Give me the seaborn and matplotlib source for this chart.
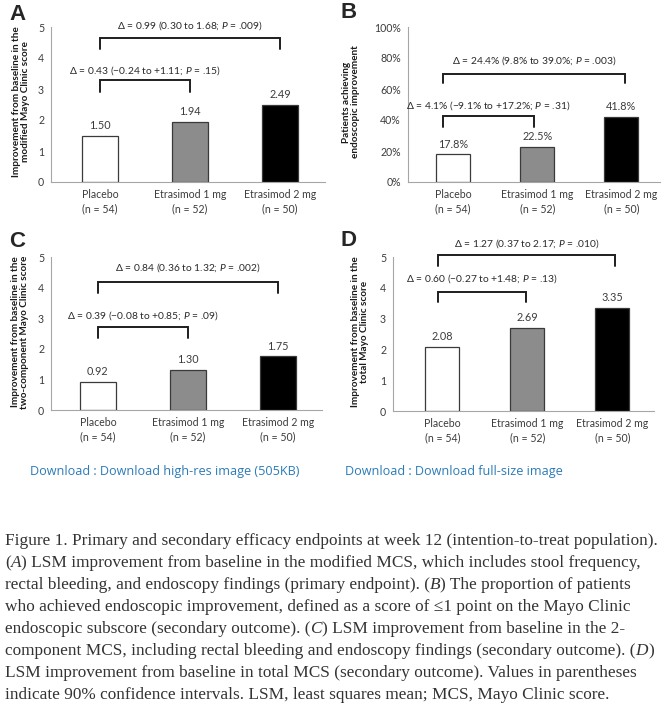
import matplotlib
matplotlib.use("Agg")
import matplotlib.pyplot as plt
import pandas as pd
import seaborn as sns

# values
groups = ["Placebo", "Etrasimod 1 mg", "Etrasimod 2 mg"]
n_patients = [54, 52, 50]
modified_mcs = [1.50, 1.94, 2.49]
endo_improvement = [17.8, 22.5, 41.8]
two_component_mcs = [0.92, 1.30, 1.75]
total_mcs = [2.08, 2.69, 3.35]

delta_2mg = [
    "Δ = 0.99 (0.30 to 1.68; $P$ = .009)",
    "Δ = 24.4% (9.8% to 39.0%; $P$ = .003)",
    "Δ = 0.84 (0.36 to 1.32; $P$ = .002)",
    "Δ = 1.27 (0.37 to 2.17; $P$ = .010)",
]
delta_1mg = [
    "Δ = 0.43 (−0.24 to +1.11; $P$ = .15)",
    "Δ = 4.1% (−9.1% to +17.2%; $P$ = .31)",
    "Δ = 0.39 (−0.08 to +0.85; $P$ = .09)",
    "Δ = 0.60 (−0.27 to +1.48; $P$ = .13)",
]
ylabels = [
    "Improvement from baseline in the\nmodified Mayo Clinic score",
    "Patients achieving\nendoscopic improvement",
    "Improvement from baseline in the\ntwo-component Mayo Clinic score",
    "Improvement from baseline in the\ntotal Mayo Clinic score",
]
panel_letters = ["A", "B", "C", "D"]

caption_lines = [
    [("Figure 1. Primary and secondary efficacy endpoints at week 12 (intention-to-treat population).", False)],
    [("(", False), ("A", True), (") LSM improvement from baseline in the modified MCS, which includes stool frequency,", False)],
    [("rectal bleeding, and endoscopy findings (primary endpoint). (", False), ("B", True), (") The proportion of patients", False)],
    [("who achieved endoscopic improvement, defined as a score of ≤1 point on the Mayo Clinic", False)],
    [("endoscopic subscore (secondary outcome). (", False), ("C", True), (") LSM improvement from baseline in the 2-", False)],
    [("component MCS, including rectal bleeding and endoscopy findings (secondary outcome). (", False), ("D", True), (")", False)],
    [("LSM improvement from baseline in total MCS (secondary outcome). Values in parentheses", False)],
    [("indicate 90% confidence intervals. LSM, least squares mean; MCS, Mayo Clinic score.", False)],
]
download_links = ["Download : Download high-res image (505KB)", "Download : Download full-size image"]

sns.set_style("white")
plt.rcParams["font.family"] = ["Lato", "DejaVu Sans"]
plt.rcParams["mathtext.fontset"] = "custom"
plt.rcParams["mathtext.rm"] = "Lato"
plt.rcParams["mathtext.it"] = "Lato:italic"
plt.rcParams["mathtext.fallback"] = "stixsans"

W, H = 667, 708
fig = plt.figure(figsize=(W / 100, H / 100), dpi=100)
fig.patch.set_facecolor("white")


def px_rect(l, t, r, b):
    return [l / W, 1 - b / H, (r - l) / W, (b - t) / H]


bar_colors = ["white", "#8c8c8c", "black"]
xticklabels = [f"{g}\n(n = {n})" for g, n in zip(groups, n_patients)]

# layout per panel: axes rect in px, xlim, ylim, bracket geometry
panels = [
    dict(vals=modified_mcs, rect=(51, 27, 325, 182), xlim=(-0.544, 2.5), ylim=(0, 5),
         big=(0.0, 2.0, 4.65, 4.30, 5.03), small=(0.0, 1.0, 3.29, 2.90, 3.58), pct=False,
         ylab=(21, 102), letter=(17, 14)),
    dict(vals=endo_improvement, rect=(408, 27, 660, 182), xlim=(-0.536, 2.46), ylim=(0, 100),
         big=(-0.12, 2.04, 69.7, 63.8, 78.3), small=(-0.12, 0.96, 42.6, 35.7, 49.0), pct=True,
         ylab=(351, 102), letter=(349, 13)),
    dict(vals=two_component_mcs, rect=(51, 257, 322, 410), xlim=(-0.52, 2.49), ylim=(0, 5),
         big=(0.0, 2.0, 4.18, 3.82, 4.64), small=(0.0, 1.0, 2.71, 2.35, 3.10), pct=False,
         ylab=(20, 332), letter=(17, 241)),
    dict(vals=total_mcs, rect=(393, 257, 654, 411), xlim=(-0.58, 2.49), ylim=(0, 5),
         big=(-0.05, 2.03, 5.06, 4.71, 5.45), small=(-0.05, 0.99, 3.86, 3.54, 4.29), pct=False,
         ylab=(360, 332), letter=(349, 240)),
]

for i, p in enumerate(panels):
    ax = fig.add_axes(px_rect(*p["rect"]))
    df = pd.DataFrame({"group": groups, "value": p["vals"]})
    sns.barplot(data=df, x="group", y="value", hue="group", palette=bar_colors,
                edgecolor="#3a3a3a", linewidth=0.9, width=0.4, legend=False, ax=ax)
    ax.set_xlim(*p["xlim"])
    ax.set_ylim(*p["ylim"])
    ax.set_xlabel("")
    ax.set_ylabel("")
    ax.set_xticks(range(3))
    ax.set_xticklabels(xticklabels, linespacing=1.4)
    if p["pct"]:
        ax.set_yticks(range(0, 101, 20))
        ax.set_yticklabels([f"{t}%" for t in range(0, 101, 20)])
    else:
        ax.set_yticks(range(0, 6))
    ax.tick_params(axis="x", length=0, pad=5, labelsize=7.6, labelcolor="#3c3c3c")
    ax.tick_params(axis="y", length=3, width=0.8, color="#a6a6a6", pad=2,
                   labelsize=7.6, labelcolor="#3c3c3c")
    for s in ["top", "right"]:
        ax.spines[s].set_visible(False)
    for s in ["left", "bottom"]:
        ax.spines[s].set_color("#a6a6a6")
        ax.spines[s].set_linewidth(0.8)

    for cont, v in zip(ax.containers, p["vals"]):
        lab = f"{v:.1f}%" if p["pct"] else f"{v:.2f}"
        ax.bar_label(cont, labels=[lab], padding=3.5, fontsize=7.8, color="#3c3c3c")

    for (x0, x1, top, bot, ty), txt in [(p["big"], delta_2mg[i]), (p["small"], delta_1mg[i])]:
        ax.plot([x0, x0, x1, x1], [bot, top, top, bot], color="#1e1e1e", lw=1.4,
                clip_on=False, solid_joinstyle="miter")
        ax.text((x0 + x1) / 2, ty, txt, ha="center", va="center", fontsize=7.4,
                color="#2a2a2a", clip_on=False)

    lx, ly = p["ylab"]
    fig.text(lx / W, 1 - ly / H, ylabels[i], rotation=90, ha="center", va="center",
             fontsize=7.2, fontweight="bold", color="#1a1a1a", linespacing=1.1,
             multialignment="center")
    tx, tyl = p["letter"]
    fig.text(tx / W, 1 - tyl / H, panel_letters[i], ha="center", va="center",
             fontsize=16, fontweight="bold", family=["Liberation Sans", "DejaVu Sans"])

# download links
for x_px, txt in zip([30, 345], download_links):
    fig.text(x_px / W, 1 - 472 / H, txt, ha="left", va="center", fontsize=9.1,
             color="#2b7bb8", family=["Open Sans", "DejaVu Sans"])

# caption, built piece by piece so the panel letters can be italic
cap_ax = fig.add_axes([0, 0, 1, 1])
cap_ax.axis("off")
cap_ax.set_zorder(-1)
serif = ["Liberation Serif", "DejaVu Serif"]
for k, line in enumerate(caption_lines):
    y_px = 549 + 22 * k
    prev = None
    for seg, ital in line:
        style = "italic" if ital else "normal"
        if prev is None:
            prev = cap_ax.text(5 / W, 1 - y_px / H, seg, ha="left", va="bottom",
                               fontsize=12.4, fontstyle=style, family=serif, color="#333333",
                               transform=cap_ax.transAxes)
        else:
            prev = cap_ax.annotate(seg, xy=(1, 0), xycoords=prev, va="bottom",
                                   fontsize=12.4, fontstyle=style, family=serif, color="#333333")

fig.savefig("out.png", dpi=100, facecolor="white")
